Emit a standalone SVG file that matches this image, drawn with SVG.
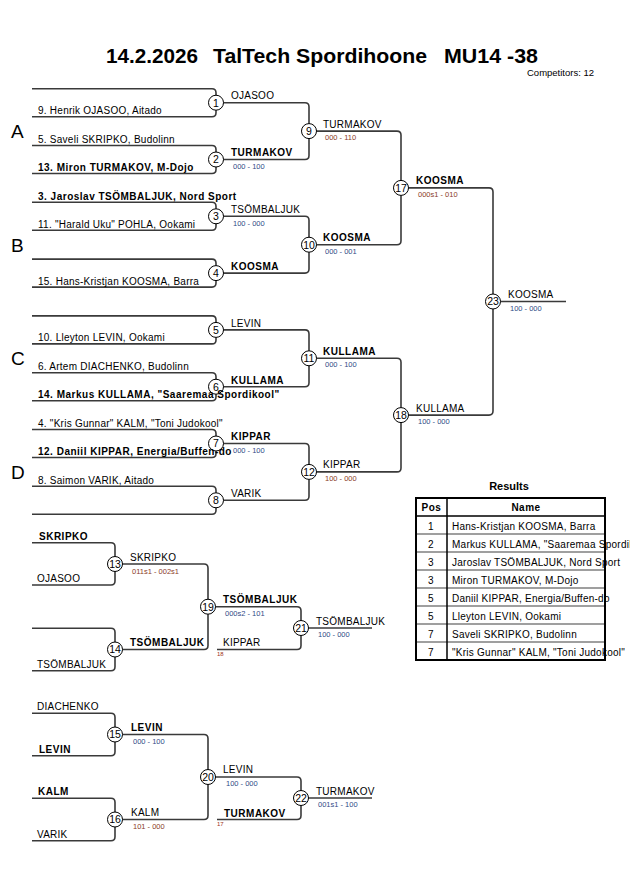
<svg xmlns="http://www.w3.org/2000/svg" width="630" height="891" viewBox="0 0 630 891">
<style>
text{font-family:"Liberation Sans",Arial,sans-serif;fill:#000}
.ln{fill:none;stroke:#3a3a3a;stroke-width:1.6}
.c{fill:#fff;stroke:#000;stroke-width:1}
.nm{font-size:10px;letter-spacing:0.25px}
.b{font-weight:bold;letter-spacing:0.5px}
.num{font-size:10.5px;text-anchor:middle}
.sc{font-size:7.5px;fill:#2f4a86}
.sr{font-size:7.5px;fill:#8a3b28}
.tiny{font-size:6px;fill:#a03020}
.grp{font-size:19px}
.tb{fill:none;stroke:#000;stroke-width:2}
.rs{stroke:#808080;stroke-width:1.5}
</style>
<rect width="630" height="891" fill="#fff"/>
<g id="title">
<text x="106" y="63" font-size="20" font-weight="bold" textLength="92" lengthAdjust="spacingAndGlyphs">14.2.2026</text>
<text x="213" y="63" font-size="20" font-weight="bold" textLength="214" lengthAdjust="spacingAndGlyphs">TalTech Spordihoone</text>
<text x="444" y="63" font-size="20" font-weight="bold" textLength="94" lengthAdjust="spacingAndGlyphs">MU14 -38</text>
<text x="527" y="76" font-size="9.5">Competitors: 12</text>
</g>
<g id="connectors">
<path class="ln" d="M32,88.7 H212 Q216,88.7 216,92.7 V112.7 Q216,116.7 212,116.7 H32"/>
<path class="ln" d="M32,145.5 H212 Q216,145.5 216,149.5 V169.5 Q216,173.5 212,173.5 H32"/>
<path class="ln" d="M32,202.3 H212 Q216,202.3 216,206.3 V226.3 Q216,230.3 212,230.3 H32"/>
<path class="ln" d="M32,259.1 H212 Q216,259.1 216,263.1 V283.1 Q216,287.1 212,287.1 H32"/>
<path class="ln" d="M32,315.9 H212 Q216,315.9 216,319.9 V339.9 Q216,343.9 212,343.9 H32"/>
<path class="ln" d="M32,372.7 H212 Q216,372.7 216,376.7 V396.7 Q216,400.7 212,400.7 H32"/>
<path class="ln" d="M32,429.5 H212 Q216,429.5 216,433.5 V453.5 Q216,457.5 212,457.5 H32"/>
<path class="ln" d="M32,486.3 H212 Q216,486.3 216,490.3 V510.3 Q216,514.3 212,514.3 H32"/>
<path class="ln" d="M216,102.7 H305 Q309,102.7 309,106.7 V155.5 Q309,159.5 305,159.5 H216"/>
<path class="ln" d="M216,216.3 H305 Q309,216.3 309,220.3 V269.1 Q309,273.1 305,273.1 H216"/>
<path class="ln" d="M216,329.9 H305 Q309,329.9 309,333.9 V382.7 Q309,386.7 305,386.7 H216"/>
<path class="ln" d="M216,443.5 H305 Q309,443.5 309,447.5 V496.3 Q309,500.3 305,500.3 H216"/>
<path class="ln" d="M309,131.1 H397 Q401,131.1 401,135.1 V240.7 Q401,244.7 397,244.7 H309"/>
<path class="ln" d="M309,358.3 H397 Q401,358.3 401,362.3 V467.9 Q401,471.9 397,471.9 H309"/>
<path class="ln" d="M401,187.9 H489 Q493,187.9 493,191.9 V411.1 Q493,415.1 489,415.1 H401"/>
<path class="ln" d="M493,301.5 H566"/>
<path class="ln" d="M32,542.7 H111 Q115,542.7 115,546.7 V581 Q115,585 111,585 H32"/>
<path class="ln" d="M32,628.3 H111 Q115,628.3 115,632.3 V666.7 Q115,670.7 111,670.7 H32"/>
<path class="ln" d="M115,564 H204 Q208,564 208,568 V645.5 Q208,649.5 204,649.5 H115"/>
<path class="ln" d="M208,606.7 H297 Q301,606.7 301,610.7 V645.5 Q301,649.5 297,649.5 H217"/>
<path class="ln" d="M301,628 H372"/>
<path class="ln" d="M32,713.3 H111 Q115,713.3 115,717.3 V751.7 Q115,755.7 111,755.7 H32"/>
<path class="ln" d="M32,798.3 H111 Q115,798.3 115,802.3 V836.7 Q115,840.7 111,840.7 H32"/>
<path class="ln" d="M115,734.5 H204 Q208,734.5 208,738.5 V815.5 Q208,819.5 204,819.5 H115"/>
<path class="ln" d="M208,777 H297 Q301,777 301,781 V815.5 Q301,819.5 297,819.5 H217"/>
<path class="ln" d="M301,798 H372"/>
</g>
<g id="pools">
<text class="grp" x="11" y="138">A</text>
<text class="grp" x="11" y="252">B</text>
<text class="grp" x="11" y="365">C</text>
<text class="grp" x="11" y="479">D</text>
</g>
<g id="m1"><circle class="c" cx="216" cy="102.7" r="7.5"/><text class="num" x="216" y="106.5">1</text><text class="nm" x="231" y="99">OJASOO</text></g>
<g id="m2"><circle class="c" cx="216" cy="159.5" r="7.5"/><text class="num" x="216" y="163.3">2</text><text class="nm b" x="231" y="156">TURMAKOV</text><text class="sc" x="233" y="168.5">000 - 100</text></g>
<g id="m3"><circle class="c" cx="216" cy="216.3" r="7.5"/><text class="num" x="216" y="220.1">3</text><text class="nm" x="231" y="213">TSÖMBALJUK</text><text class="sc" x="233" y="225.5">100 - 000</text></g>
<g id="m4"><circle class="c" cx="216" cy="273.1" r="7.5"/><text class="num" x="216" y="276.9">4</text><text class="nm b" x="231" y="270">KOOSMA</text></g>
<g id="m5"><circle class="c" cx="216" cy="329.9" r="7.5"/><text class="num" x="216" y="333.7">5</text><text class="nm" x="231" y="327">LEVIN</text></g>
<g id="m6"><circle class="c" cx="216" cy="386.7" r="7.5"/><text class="num" x="216" y="390.5">6</text><text class="nm b" x="231" y="383.5">KULLAMA</text></g>
<g id="m7"><circle class="c" cx="216" cy="443.5" r="7.5"/><text class="num" x="216" y="447.3">7</text><text class="nm b" x="231" y="440">KIPPAR</text><text class="sc" x="233" y="452.5" fill="#555">000 - 100</text></g>
<g id="m8"><circle class="c" cx="216" cy="500.3" r="7.5"/><text class="num" x="216" y="504.1">8</text><text class="nm" x="231" y="497">VARIK</text></g>
<g id="m9"><circle class="c" cx="309" cy="131.1" r="7.5"/><text class="num" x="309" y="134.9">9</text><text class="nm" x="323" y="127.5">TURMAKOV</text><text class="sr" x="325" y="140">000 - 110</text></g>
<g id="m10"><circle class="c" cx="309" cy="244.7" r="7.5"/><text class="num" x="309" y="248.5">10</text><text class="nm b" x="323" y="241">KOOSMA</text><text class="sc" x="325" y="253.5">000 - 001</text></g>
<g id="m11"><circle class="c" cx="309" cy="358.3" r="7.5"/><text class="num" x="309" y="362.1">11</text><text class="nm b" x="323" y="354.5">KULLAMA</text><text class="sc" x="325" y="367">000 - 100</text></g>
<g id="m12"><circle class="c" cx="309" cy="471.9" r="7.5"/><text class="num" x="309" y="475.7">12</text><text class="nm" x="323" y="468">KIPPAR</text><text class="sr" x="325" y="480.5">100 - 000</text></g>
<g id="m17"><circle class="c" cx="401" cy="187.9" r="7.5"/><text class="num" x="401" y="191.7">17</text><text class="nm b" x="416" y="184">KOOSMA</text><text class="sr" x="418" y="196.5">000s1 - 010</text></g>
<g id="m18"><circle class="c" cx="401" cy="415.1" r="7.5"/><text class="num" x="401" y="418.9">18</text><text class="nm" x="416" y="411.5">KULLAMA</text><text class="sc" x="418" y="424">100 - 000</text></g>
<g id="m23"><circle class="c" cx="493" cy="301.5" r="7.5"/><text class="num" x="493" y="305.3">23</text><text class="nm" x="508" y="298">KOOSMA</text><text class="sc" x="510" y="310.5">100 - 000</text></g>
<g id="entries">
<text class="nm" x="38" y="114">9. Henrik OJASOO, Aitado</text>
<text class="nm" x="38" y="143">5. Saveli SKRIPKO, Budolinn</text>
<text class="nm b" x="38" y="171">13. Miron TURMAKOV, M-Dojo</text>
<text class="nm b" x="38" y="199.5">3. Jaroslav TSÖMBALJUK, Nord Sport</text>
<text class="nm" x="38" y="227.5">11. "Harald Uku" POHLA, Ookami</text>
<text class="nm" x="38" y="284.5">15. Hans-Kristjan KOOSMA, Barra</text>
<text class="nm" x="38" y="341">10. Lleyton LEVIN, Ookami</text>
<text class="nm" x="38" y="370">6. Artem DIACHENKO, Budolinn</text>
<text class="nm b" x="38" y="398">14. Markus KULLAMA, "Saaremaa Spordikool"</text>
<text class="nm" x="38" y="426.5">4. "Kris Gunnar" KALM, "Toni Judokool"</text>
<text class="nm b" x="38" y="455">12. Daniil KIPPAR, Energia/Buffen-do</text>
<text class="nm" x="38" y="483.5">8. Saimon VARIK, Aitado</text>
</g>
<g id="rep-entries">
<text class="nm b" x="39" y="539.5">SKRIPKO</text>
<text class="nm" x="37" y="582">OJASOO</text>
<text class="nm" x="37" y="667.5">TSÖMBALJUK</text>
<text class="nm" x="37" y="710">DIACHENKO</text>
<text class="nm b" x="39" y="752.5">LEVIN</text>
<text class="nm b" x="38" y="795">KALM</text>
<text class="nm" x="37" y="837.5">VARIK</text>
</g>
<g id="m13"><circle class="c" cx="115" cy="564" r="7.5"/><text class="num" x="115" y="567.8">13</text><text class="nm" x="130" y="561">SKRIPKO</text><text class="sr" x="132" y="574">011s1 - 002s1</text></g>
<g id="m14"><circle class="c" cx="115" cy="649.5" r="7.5"/><text class="num" x="115" y="653.3">14</text><text class="nm b" x="130" y="646">TSÖMBALJUK</text></g>
<g id="m19"><circle class="c" cx="208" cy="606.7" r="7.5"/><text class="num" x="208" y="610.5">19</text><text class="nm b" x="223" y="603">TSÖMBALJUK</text><text class="sc" x="225" y="615.5" fill="#4a5070">000s2 - 101</text></g>
<g id="m21"><circle class="c" cx="301" cy="628" r="7.5"/><text class="num" x="301" y="631.8">21</text><text class="nm" x="223" y="646">KIPPAR</text><text class="tiny" x="217" y="656">18</text><text class="nm" x="316" y="624.5">TSÖMBALJUK</text><text class="sc" x="318" y="637">100 - 000</text></g>
<g id="m15"><circle class="c" cx="115" cy="734.5" r="7.5"/><text class="num" x="115" y="738.3">15</text><text class="nm b" x="131" y="731">LEVIN</text><text class="sc" x="133" y="743.5">000 - 100</text></g>
<g id="m16"><circle class="c" cx="115" cy="819.5" r="7.5"/><text class="num" x="115" y="823.3">16</text><text class="nm" x="131" y="816">KALM</text><text class="sr" x="133" y="828.5">101 - 000</text></g>
<g id="m20"><circle class="c" cx="208" cy="777" r="7.5"/><text class="num" x="208" y="780.8">20</text><text class="nm" x="223" y="773">LEVIN</text><text class="sc" x="226" y="785.5">100 - 000</text></g>
<g id="m22"><circle class="c" cx="301" cy="798" r="7.5"/><text class="num" x="301" y="801.8">22</text><text class="nm b" x="224" y="816.5">TURMAKOV</text><text class="tiny" x="217" y="826">17</text><text class="nm" x="316" y="794.5">TURMAKOV</text><text class="sc" x="318" y="806.5">001s1 - 100</text></g>
<g id="results">
<text x="509" y="490" font-size="11" font-weight="bold" text-anchor="middle">Results</text>
<text class="nm b" x="431.5" y="511" text-anchor="middle">Pos</text>
<text class="nm b" x="526" y="511" text-anchor="middle">Name</text>
<g class="nm" text-anchor="middle">
<text x="431" y="529.5">1</text><text x="431" y="547.5">2</text><text x="431" y="565.5">3</text><text x="431" y="583.5">3</text>
<text x="431" y="601.5">5</text><text x="431" y="619.5">5</text><text x="431" y="637.5">7</text><text x="431" y="655.5">7</text>
</g>
<g class="nm">
<text x="452" y="529.5">Hans-Kristjan KOOSMA, Barra</text>
<text x="452" y="547.5">Markus KULLAMA, "Saaremaa Spordikool"</text>
<text x="452" y="565.5">Jaroslav TSÖMBALJUK, Nord Sport</text>
<text x="452" y="583.5">Miron TURMAKOV, M-Dojo</text>
<text x="452" y="601.5">Daniil KIPPAR, Energia/Buffen-do</text>
<text x="452" y="619.5">Lleyton LEVIN, Ookami</text>
<text x="452" y="637.5">Saveli SKRIPKO, Budolinn</text>
<text x="452" y="655.5">"Kris Gunnar" KALM, "Toni Judokool"</text>
</g>
<path class="rs" d="M416,534 H605 M416,552 H605 M416,570 H605 M416,588 H605 M416,606 H605 M416,624 H605 M416,642 H605"/>
<path d="M416,516 H605 M447,498 V660" stroke="#000" stroke-width="1.5"/>
<rect class="tb" x="416" y="498" width="189" height="162"/>
</g>
</svg>
